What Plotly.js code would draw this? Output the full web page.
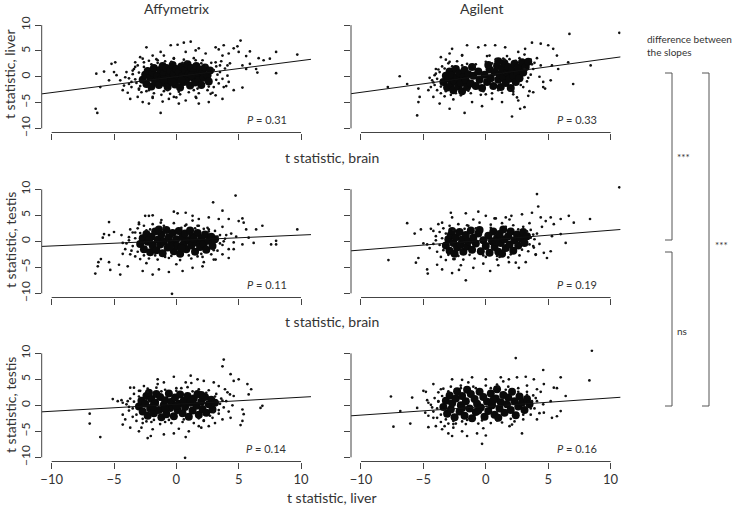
<!DOCTYPE html>
<html><head><meta charset="utf-8">
<script src="https://cdn.plot.ly/plotly-3.0.1.min.js"></script>
<style>html,body{margin:0;padding:0;background:#fff}#chart{width:735px;height:507px}</style>
</head><body><div id="chart"></div>
<script>
// ---------- data ----------
const platforms = ["Affymetrix", "Agilent"];
const rowXLabels = ["t statistic, brain", "t statistic, brain", "t statistic, liver"];
const rowYLabels = ["t statistic, liver", "t statistic, testis", "t statistic, testis"];
const pValues = ["0.31", "0.33", "0.11", "0.19", "0.14", "0.16"];
const slopes = [0.31, 0.33, 0.105, 0.19, 0.135, 0.165];
const intercepts = [0.03, 0.28, 0.16, 0.23, 0.21, -0.23];
const tickValues = [-10, -5, 0, 5, 10];
const slopeTestLabels = ["***", "***", "ns"];
const slopeTestTitle = "difference between<br>the slopes";

// panel 1: Affymetrix, liver vs brain
const affyLiverBrainCore = [[-2.7,-0.6],[-2.5,0.4],[-2.4,-1.4],[-2.3,1.1],[-2.1,-0.2],[-2.0,-1.9],[-1.9,0.8],[-1.8,1.7],[-1.7,-0.9],[-1.5,0.2],[-1.4,-1.6],[-1.3,1.3],[-1.2,-0.4],[-1.1,2.1],[-1.0,0.6],[-0.9,-1.2],[-0.8,1.7],[-0.7,-2.0],[-0.6,0.0],[-0.5,1.1],[-0.4,-0.8],[-0.3,2.3],[-0.2,0.5],[-0.1,-1.5],[0.0,1.5],[0.1,-0.3],[0.2,0.9],[0.3,-2.1],[0.4,2.0],[0.5,0.2],[0.6,-1.0],[0.7,1.3],[0.8,-0.5],[0.9,2.4],[1.0,0.6],[1.1,-1.7],[1.2,1.7],[1.3,-0.1],[1.4,1.0],[1.5,-1.1],[1.6,2.1],[1.7,0.4],[1.8,-0.7],[1.9,1.4],[2.0,-1.6],[2.1,0.8],[2.2,-0.2],[2.3,1.8],[2.5,0.3],[2.6,-0.9],[2.7,1.2],[-0.3,-1.0],[0.4,-0.7],[-1.0,-0.5],[1.2,0.3]];
const affyLiverBrainSpread = [[-3.5,0.5],[-3.2,-1.2],[-3.4,1.5],[-3.0,-2.5],[-3.1,2.2],[-2.8,-3.0],[-2.6,2.8],[-2.4,-2.8],[-2.2,3.1],[-1.8,-3.2],[-1.6,3.4],[-1.2,-3.5],[-0.9,3.0],[-0.5,-3.3],[-0.2,3.6],[0.3,-3.4],[0.6,3.3],[1.0,-3.0],[1.4,3.6],[1.8,-3.2],[2.1,3.2],[2.5,-2.6],[2.8,2.7],[3.0,-2.0],[3.2,2.0],[3.4,-1.3],[3.5,0.9],[3.7,-0.4],[3.9,1.6],[4.1,0.2],[-3.8,-0.3],[-4.0,0.9],[-3.6,-2.0],[4.3,2.6],[4.0,-1.8],[3.6,3.0],[-2.9,3.8],[0.0,-4.0],[1.6,-4.1],[-1.9,-3.9],
 [-3.3,-0.5],[-3.0,0.8],[-2.9,-1.8],[-2.6,1.9],[-2.2,-2.6],[-1.5,2.7],[-1.0,-2.8],[-0.4,2.9],[0.2,-2.9],[0.8,2.9],[1.4,-2.6],[2.0,2.6],[2.6,-1.9],[3.0,1.3],[3.2,-0.6],[3.3,0.4],[-3.6,-1.0],[2.4,2.2],[-2.0,2.4],[1.7,-2.3],[-0.7,-2.6],[0.5,2.7],[3.5,2.2],[-3.3,2.8],[2.9,-3.1],
 [-6.47,-6.2],[-6.34,-7.0],[-1.26,-7.0],[-6.42,0.6],[-5.8,1.0],[-5.2,2.5],[-4.9,2.8],[-5.0,0.9],[-4.8,0.3],[-5.4,-0.7],[-6.1,-2.0],[-2.4,5.7],[-1.26,4.8],[-1.0,4.1],[-0.45,6.1],[0.1,6.2],[0.6,6.6],[1.15,6.8],[1.55,5.1],[1.8,5.5],[0.75,4.8],[2.35,4.5],[3.15,5.7],[3.4,5.3],[3.8,6.1],[4.2,4.5],[4.6,5.5],[4.9,5.9],[5.15,7.0],[5.0,4.8],[5.6,4.0],[5.9,4.9],[6.6,3.6],[7.0,3.2],[7.5,3.5],[8.0,4.8],[9.7,4.3],[5.3,2.2],[5.6,1.5],[5.9,2.5],[6.4,1.5],[6.5,0.8],[8.0,0.7],[4.6,-2.6],[5.3,-2.1],[3.7,-4.3],[3.15,-3.6],[2.6,-4.9],[1.8,-5.2],[0.75,-4.6],[0.2,-5.2],[-0.6,-4.3],[-1.1,-4.8],[-1.9,-4.1],[-2.7,-4.9],[-3.7,-4.3],[-3.9,-3.1],[-4.2,-1.7],[-4.5,-0.7],[-4.1,-0.1],[-4.3,-2.6],[-3.1,-3.9],[-2.2,-5.2],[-3.3,1.9],[-3.5,1.2],[-2.7,3.5],[-1.9,4.1],[3.7,4.1],[3.15,2.8],[4.1,2.2],[4.2,-1.0],[3.8,-2.0],[2.75,-3.3],[1.55,-3.9],[-0.2,-3.9],[-3.0,-2.3],[-3.8,-1.4],[1.55,3.2],[-0.2,3.5],[-1.5,3.2]];

// panel 2: Agilent, liver vs brain
const agiLiverBrainCore = [[-3.4,-1.0],[-3.2,0.2],[-3.1,-2.1],[-3.0,-0.4],[-2.9,1.0],[-2.8,-1.6],[-2.7,0.3],[-2.6,-2.6],[-2.5,-0.9],[-2.4,1.5],[-2.3,-0.1],[-2.2,-1.9],[-2.1,0.7],[-2.0,-1.2],[-1.9,-2.8],[-1.8,0.0],[-1.7,1.3],[-1.6,-0.7],[-1.5,-2.0],[-1.4,0.5],[-1.2,-1.3],[-1.0,0.2],[-0.8,-1.8],[-0.6,1.0],[-0.5,-0.6],[-0.3,-2.2],[-0.1,0.4],[0.1,-1.0],[0.3,1.4],[0.4,-0.3],[0.6,-1.8],[0.7,0.9],[0.9,2.1],[1.0,-0.6],[1.1,0.5],[1.2,-2.0],[1.3,1.5],[1.4,-0.1],[1.5,2.6],[1.6,-1.2],[1.7,0.8],[1.8,1.9],[1.9,-0.4],[2.0,-2.2],[2.1,1.2],[2.2,0.2],[2.3,2.5],[2.4,-1.0],[2.5,0.9],[2.6,1.8],[2.7,-0.3],[2.9,2.8],[3.0,0.8],[3.2,1.9],[3.4,2.9],[0.2,2.3],[-1.1,1.9],[1.0,3.0]];
const agiLiverBrainSpread = [[-4.2,-1.1],[-4.0,0.6],[-3.9,-2.6],[-3.8,1.4],[-3.6,-3.2],[-3.5,2.0],[-3.3,-3.8],[-3.0,2.6],[-2.8,-3.5],[-2.3,3.0],[-2.0,-3.6],[-1.5,2.5],[-1.2,-3.2],[-0.8,2.4],[-0.4,-3.5],[0.0,2.9],[0.5,-3.2],[0.8,3.4],[1.3,-3.1],[1.9,3.4],[2.2,-2.9],[2.7,3.6],[3.0,-2.0],[3.3,-0.9],[3.6,0.4],[3.8,1.5],[3.9,2.7],[4.1,3.6],[4.3,0.0],[4.4,2.2],[3.5,-2.8],[-4.5,-0.2],[-4.4,-2.0],[-3.2,3.3],[1.7,4.0],[-1.9,4.2],[2.5,-4.0],[-2.6,-4.4],[0.3,4.1],[3.1,4.3],
 [-3.9,-0.4],[-3.7,0.9],[-3.6,-1.9],[-3.3,1.6],[-3.2,-2.8],[-2.7,2.0],[-2.4,-3.2],[-1.9,2.2],[-1.4,-2.7],[-0.9,2.0],[-0.2,-2.8],[0.5,2.6],[1.0,-2.6],[1.5,3.3],[1.9,-2.6],[2.4,3.1],[2.8,-1.6],[3.1,1.5],[3.4,-0.2],[3.7,2.4],[3.6,3.3],[-4.1,-1.6],[0.0,-3.4],[2.2,-3.4],[-2.9,2.9],
 [6.7,8.3],[10.7,8.5],[-6.9,0.1],[-7.85,-2.0],[-6.3,-1.4],[-5.4,-2.3],[-5.3,-3.9],[-5.4,-4.9],[-5.5,-7.5],[-4.3,-0.7],[-4.6,-2.6],[-4.2,-3.9],[-3.7,-5.2],[-2.9,-6.2],[-1.7,-7.0],[-1.1,-4.9],[-0.3,-5.7],[0.5,-4.3],[1.3,-4.9],[2.1,-7.7],[2.75,-6.2],[3.1,-5.9],[2.6,-4.6],[3.4,-3.7],[3.8,-3.0],[4.6,-2.0],[4.75,-2.3],[5.2,-0.7],[4.6,-1.0],[5.3,2.2],[5.8,1.5],[5.7,4.1],[5.4,5.4],[5.0,6.1],[4.4,6.4],[3.7,6.6],[3.15,5.4],[2.6,4.8],[1.55,5.7],[0.75,6.1],[-0.05,6.1],[-0.6,5.7],[-1.5,6.1],[-1.9,4.1],[-2.7,5.4],[-2.9,4.5],[-3.6,3.8],[-4.0,1.5],[-4.1,0.3],[6.6,2.8],[7.0,-1.4],[8.4,2.2],[1.4,3.5],[0.1,4.0]];

// panel 3: Affymetrix, testis vs brain
const affyTestisBrainCore = [[-2.9,-0.5],[-2.7,0.6],[-2.6,-1.5],[-2.4,1.4],[-2.3,-0.1],[-2.1,-2.1],[-2.0,0.9],[-1.9,-0.8],[-1.7,1.9],[-1.6,-1.7],[-1.5,0.3],[-1.3,-0.6],[-1.2,1.3],[-1.1,-2.3],[-1.0,0.0],[-0.8,2.2],[-0.7,-1.2],[-0.6,0.8],[-0.4,-0.3],[-0.3,1.6],[-0.2,-1.9],[0.0,0.4],[0.1,-0.9],[0.2,2.0],[0.3,-2.4],[0.5,0.9],[0.6,-0.4],[0.7,1.5],[0.8,-1.5],[1.0,0.2],[1.1,2.1],[1.2,-0.8],[1.3,1.0],[1.5,-2.0],[1.6,-0.2],[1.7,1.6],[1.9,-1.1],[2.0,0.5],[2.2,-0.5],[2.3,1.3],[2.4,-1.6],[2.6,0.1],[2.8,0.9],[2.9,-0.9],[3.1,0.4],[-1.4,2.3],[0.4,-1.3],[-0.5,-1.0],[1.4,0.5],[-2.2,0.2]];
const affyTestisBrainSpread = [[-4.0,-0.4],[-3.8,0.8],[-3.6,-1.8],[-3.5,1.7],[-3.3,-2.9],[-3.1,2.5],[-2.9,-3.4],[-2.6,3.0],[-2.2,-3.3],[-1.9,3.3],[-1.5,-3.5],[-1.0,3.0],[-0.6,-3.2],[-0.2,3.5],[0.3,-3.6],[0.8,3.2],[1.2,-3.3],[1.7,3.0],[2.1,-3.0],[2.5,2.6],[2.8,-2.5],[3.1,2.0],[3.3,-1.8],[3.5,1.2],[3.7,-0.7],[3.9,0.5],[4.2,-1.5],[4.4,1.5],[4.6,-0.2],[-4.3,-2.4],[-4.4,1.2],[3.7,2.8],[-2.4,-4.2],[0.0,-4.4],[2.2,-4.0],[1.3,4.0],[-1.2,4.1],[4.8,0.9],[-3.0,3.6],[3.0,-3.5],
 [-3.5,-0.9],[-3.3,0.6],[-3.1,-2.0],[-2.9,1.6],[-2.6,-2.7],[-2.1,2.3],[-1.7,-2.7],[-1.0,2.6],[-0.4,-2.8],[0.4,2.6],[1.0,-2.7],[1.5,2.5],[2.0,-2.4],[2.6,1.9],[3.0,-1.7],[3.3,0.9],[3.5,-0.4],[3.8,0.0],[-3.8,0.2],[2.2,2.4],[-2.4,2.1],[1.7,-2.9],[-0.9,-3.0],[0.7,3.0],[4.0,1.2],
 [4.75,8.8],[2.95,7.5],[3.7,5.9],[-6.5,-6.2],[-6.3,-4.8],[-6.25,-4.0],[-6.05,-3.4],[-5.4,-4.0],[-5.3,-5.5],[-4.5,-6.4],[-4.6,-4.5],[-3.9,-4.8],[-2.7,-5.7],[-1.9,-6.4],[-1.4,-5.4],[-0.6,-5.9],[0.5,-5.7],[1.3,-5.1],[2.1,-4.8],[-0.35,-10.1],[-5.4,1.2],[-5.9,0.7],[-5.8,1.4],[-5.4,3.7],[-5.0,1.8],[-2.5,4.9],[-2.2,4.9],[-1.9,5.0],[-0.2,5.7],[0.1,5.4],[0.75,5.5],[1.3,4.9],[1.8,4.3],[2.6,4.6],[3.4,4.3],[4.2,4.3],[5.0,3.9],[5.3,4.4],[5.4,3.6],[5.6,2.3],[6.4,2.3],[6.9,3.0],[8.0,0.1],[8.0,-0.6],[7.6,-0.6],[9.7,2.3],[5.8,0.7],[6.2,-0.3],[5.3,-0.6],[4.6,-1.5],[4.2,-3.2],[3.7,-2.5],[3.15,-3.5],[-3.7,-2.5],[-4.1,-1.5],[-4.3,-0.3],[-3.3,1.7],[-3.7,2.3],[-3.0,3.3],[-1.25,3.6],[1.8,3.0],[2.6,2.3]];

// panel 4: Agilent, testis vs brain
const agiTestisBrainCore = [[-3.2,-0.8],[-3.0,0.4],[-2.9,-1.8],[-2.8,1.2],[-2.6,-0.3],[-2.5,-2.4],[-2.4,0.8],[-2.3,-1.2],[-2.1,1.8],[-2.0,-0.6],[-1.9,0.3],[-1.8,-2.0],[-1.6,1.2],[-1.5,-1.0],[-1.4,0.0],[-1.2,2.1],[-1.1,-1.6],[-1.0,0.7],[-0.8,-0.4],[-0.6,1.5],[-0.4,-1.9],[-0.2,0.2],[0.0,-0.9],[0.2,1.1],[0.3,-2.2],[0.5,0.0],[0.6,1.9],[0.7,-1.1],[0.9,0.6],[1.0,-2.0],[1.1,1.4],[1.2,-0.3],[1.4,2.3],[1.5,0.4],[1.6,-1.3],[1.8,1.0],[1.9,-0.6],[2.0,1.9],[2.2,-1.8],[2.3,0.2],[2.5,1.3],[2.6,-0.8],[2.8,0.6],[3.0,1.8],[3.1,-0.3],[3.3,1.0],[-0.5,2.2],[1.3,-2.4],[-2.7,2.0],[0.8,-0.1]];
const agiTestisBrainSpread = [[-4.2,-0.5],[-4.0,1.0],[-3.9,-2.0],[-3.7,1.8],[-3.6,-3.0],[-3.4,2.5],[-3.2,-3.6],[-2.9,3.0],[-2.5,-3.4],[-2.2,3.3],[-1.8,-3.5],[-1.4,3.0],[-0.9,-3.3],[-0.5,3.6],[0.0,-3.0],[0.4,3.2],[0.9,-3.5],[1.3,3.5],[1.8,-3.1],[2.2,3.1],[2.7,-2.7],[3.0,2.8],[3.4,-1.9],[3.6,2.2],[3.8,-0.9],[3.9,0.4],[4.1,1.5],[4.3,-0.5],[-4.4,2.4],[-4.5,-1.3],[2.4,-4.1],[-0.2,-4.3],[-2.0,-4.6],[3.5,3.5],[-1.0,4.2],[1.9,4.2],[4.5,2.8],[-3.5,3.6],[4.0,-2.6],[0.7,4.4],
 [-3.7,-0.7],[-3.5,0.6],[-3.4,-1.7],[-3.2,1.5],[-3.0,-2.6],[-2.6,2.2],[-2.2,-2.8],[-1.7,2.4],[-1.3,-2.6],[-0.8,2.5],[-0.2,-2.7],[0.4,2.6],[0.9,-2.8],[1.6,2.8],[2.0,-2.5],[2.6,2.3],[2.9,-1.6],[3.3,1.9],[3.5,-0.6],[3.6,0.7],[-4.0,0.2],[-2.6,-3.4],[1.1,-3.0],[-1.5,3.1],[3.8,1.3],
 [10.7,10.4],[4.1,9.1],[4.2,6.7],[-7.8,-3.6],[-6.3,3.5],[-5.7,1.5],[-5.2,2.3],[-5.0,-0.4],[-5.6,-4.1],[-5.4,-3.2],[-4.7,-5.4],[-4.65,-6.2],[-3.9,-4.5],[-3.5,-5.4],[-2.7,-6.1],[-2.15,-5.5],[-1.6,-7.5],[-1.0,-5.1],[0.35,-5.7],[1.0,-4.6],[1.85,-4.0],[2.65,-5.1],[3.2,-4.0],[4.0,-2.5],[4.65,-2.2],[5.2,-1.9],[4.9,-3.2],[3.85,-1.2],[6.65,4.9],[7.05,3.6],[8.35,4.3],[6.0,4.3],[5.45,3.3],[5.2,4.6],[4.8,3.9],[4.4,4.6],[3.7,5.5],[2.9,5.2],[2.05,4.9],[1.6,4.6],[0.8,4.4],[0.0,4.9],[-0.6,5.7],[-1.6,5.4],[-2.8,5.5],[-2.7,4.6],[-3.8,3.3],[-4.2,2.0],[-4.7,-0.6],[5.3,1.0],[6.0,1.4],[6.4,-0.3]];

// panel 5: Affymetrix, testis vs liver
const affyTestisLiverCore = [[-3.0,-0.2],[-2.8,0.9],[-2.7,-1.2],[-2.5,0.3],[-2.4,1.8],[-2.3,-2.0],[-2.1,-0.6],[-2.0,1.2],[-1.8,-1.5],[-1.7,0.5],[-1.6,2.2],[-1.4,-0.9],[-1.3,1.6],[-1.2,-2.3],[-1.0,0.1],[-0.9,1.0],[-0.8,-1.7],[-0.6,2.3],[-0.5,-0.5],[-0.4,0.7],[-0.2,-2.1],[-0.1,1.5],[0.1,-0.9],[0.2,0.3],[0.3,2.1],[0.5,-1.5],[0.6,0.9],[0.7,-0.3],[0.9,1.8],[1.0,-2.2],[1.1,0.5],[1.3,-1.0],[1.4,1.3],[1.6,-0.1],[1.7,2.2],[1.8,-1.8],[2.0,0.7],[2.1,-0.7],[2.3,1.6],[2.4,-1.4],[2.6,0.2],[2.8,1.1],[2.9,-0.8],[3.1,0.5],[-1.9,-0.2],[0.0,-0.1],[-0.9,-0.7],[1.2,1.0],[2.0,2.0],[-2.2,2.4]];
const affyTestisLiverSpread = [[-4.0,0.2],[-3.8,-1.0],[-3.7,1.3],[-3.5,-2.2],[-3.4,2.2],[-3.2,-3.0],[-2.9,2.8],[-2.7,-3.4],[-2.3,3.2],[-2.0,-3.2],[-1.6,3.4],[-1.3,-3.6],[-0.9,3.0],[-0.4,-3.4],[0.0,3.3],[0.5,-3.2],[0.9,3.5],[1.4,-3.4],[1.8,3.1],[2.2,-3.0],[2.6,2.9],[2.9,-2.4],[3.2,2.2],[3.4,-1.6],[3.6,1.3],[3.8,-0.4],[4.0,0.8],[4.2,-1.2],[4.3,2.1],[-4.3,-1.8],[-4.4,1.0],[3.9,3.1],[-2.8,-4.3],[0.2,-4.5],[2.0,-4.3],[1.2,4.3],[-1.5,4.1],[4.5,0.0],[-3.4,3.4],[3.1,-3.4],
 [-3.5,-0.6],[-3.4,0.7],[-3.2,-1.8],[-3.0,1.7],[-2.7,-2.6],[-2.3,2.6],[-1.8,-2.8],[-1.2,2.7],[-0.6,-2.8],[0.0,2.8],[0.6,-2.7],[1.3,2.7],[1.8,-2.5],[2.4,2.4],[2.7,-2.0],[3.1,1.7],[3.4,-0.9],[3.5,0.3],[3.7,0.9],[-3.8,-0.3],[2.2,-2.9],[-2.4,-3.1],[0.4,3.3],[-0.9,-3.2],[3.0,-1.3],
 [3.8,8.8],[3.7,7.5],[4.35,6.0],[5.0,5.0],[4.6,4.7],[5.7,4.1],[6.0,3.1],[5.8,2.1],[6.9,-0.1],[6.75,-0.5],[5.3,-0.8],[5.4,-1.7],[5.3,-3.0],[5.15,-3.8],[4.35,-2.4],[3.7,-2.7],[-6.95,-1.6],[-6.95,-3.5],[-6.1,-6.1],[-5.1,1.2],[-4.7,0.8],[-4.3,0.5],[-3.9,0.8],[-4.3,-3.7],[-4.1,-2.7],[-3.7,-4.3],[-3.0,-5.0],[-2.3,-6.3],[-2.05,-5.9],[-1.9,-4.6],[-1.0,-5.6],[-0.2,-5.4],[0.75,-6.1],[1.0,-5.0],[0.7,-10.1],[1.8,-4.0],[2.6,-4.0],[-3.7,3.4],[-3.0,2.8],[-2.6,3.7],[-1.5,5.0],[-1.0,4.4],[-0.2,5.5],[0.75,4.4],[1.15,5.7],[1.7,5.0],[2.2,4.7],[3.0,4.4],[3.4,3.7],[4.1,2.5],[4.6,1.8]];

// panel 6: Agilent, testis vs liver
const agiTestisLiverCore = [[-3.4,-0.3],[-3.2,0.9],[-3.1,-1.6],[-2.9,1.9],[-2.8,-0.8],[-2.7,0.4],[-2.5,-2.3],[-2.4,1.3],[-2.3,2.7],[-2.1,-1.2],[-2.0,0.0],[-1.9,1.8],[-1.7,-2.0],[-1.6,0.8],[-1.5,3.0],[-1.3,-0.6],[-1.2,2.2],[-1.1,-2.5],[-0.9,1.2],[-0.8,-1.3],[-0.7,0.3],[-0.5,2.6],[-0.4,-0.4],[-0.2,1.6],[-0.1,-2.2],[0.1,0.7],[0.2,-1.1],[0.4,2.3],[0.5,0.0],[0.7,-1.8],[0.8,1.3],[0.9,3.1],[1.1,-0.6],[1.2,0.6],[1.4,2.0],[1.5,-1.4],[1.7,0.2],[1.8,1.5],[2.0,-0.9],[2.1,2.6],[2.3,0.8],[2.4,-1.9],[2.6,-0.2],[2.7,1.7],[2.9,0.5],[3.1,-0.9],[3.3,1.2],[-0.6,-1.0],[0.6,1.0],[-1.9,-0.5],[1.0,-2.4],[3.5,0.2]];
const agiTestisLiverSpread = [[-4.4,0.1],[-4.2,-1.2],[-4.1,1.4],[-3.9,-2.4],[-3.8,2.5],[-3.6,-3.2],[-3.4,3.2],[-3.0,-3.5],[-2.8,3.6],[-2.4,-3.5],[-2.0,3.8],[-1.6,-3.6],[-1.0,3.6],[-0.6,-3.5],[0.0,3.8],[0.4,-3.4],[0.9,4.0],[1.3,-3.3],[1.8,3.6],[2.3,-3.1],[2.6,3.3],[3.0,-2.7],[3.3,2.6],[3.6,-1.8],[3.8,1.9],[3.9,-0.6],[4.1,0.8],[4.3,-1.5],[4.4,2.6],[-4.6,-2.0],[-4.7,1.0],[-2.6,-4.3],[-0.2,-4.4],[1.9,-4.0],[-1.4,4.4],[3.3,3.8],[4.6,0.2],[-3.3,-4.0],[1.4,4.6],[-4.8,2.6],
 [-3.9,-0.6],[-3.8,0.7],[-3.6,-1.8],[-3.5,1.8],[-3.2,-2.7],[-3.0,2.7],[-2.6,-3.0],[-2.0,3.3],[-1.5,-2.8],[-0.8,3.3],[-0.3,-2.9],[0.4,3.3],[0.9,-2.9],[1.6,3.0],[2.0,-2.6],[2.6,2.6],[3.0,-1.8],[3.3,2.0],[3.6,-0.6],[3.7,0.8],[-4.3,-0.4],[-2.6,-3.6],[1.0,3.6],[-1.9,-3.1],[4.0,1.4],
 [8.5,10.5],[8.3,4.8],[2.4,9.1],[4.6,6.8],[6.0,5.4],[5.45,3.4],[5.7,3.3],[6.4,1.8],[5.2,0.8],[5.3,-2.4],[6.0,-1.1],[5.7,-2.1],[4.65,-1.4],[4.1,-2.7],[2.9,-5.4],[2.1,-3.7],[-0.3,-7.4],[0.0,-5.8],[-0.7,-5.4],[-1.5,-5.9],[-1.9,-5.0],[-2.7,-5.9],[-3.0,-5.4],[-3.5,-4.6],[-4.0,-4.0],[-4.6,-4.2],[-4.2,-2.4],[-4.85,-1.4],[-5.5,-0.5],[-6.05,-3.5],[-6.85,-1.1],[-7.4,-4.1],[-7.6,1.7],[-5.9,1.5],[-5.0,2.8],[-4.2,4.1],[-3.6,3.1],[-2.7,5.0],[-1.9,4.9],[-1.1,5.4],[0.0,5.0],[1.2,5.4],[1.85,5.0],[2.5,5.4],[3.2,5.5],[3.85,5.0],[4.65,4.1],[4.1,3.1],[-4.6,0.5],[-3.8,0.8]];

// ---------- build ----------
const coreSets = [affyLiverBrainCore, agiLiverBrainCore, affyTestisBrainCore, agiTestisBrainCore, affyTestisLiverCore, agiTestisLiverCore];
const spreadSets = [affyLiverBrainSpread, agiLiverBrainSpread, affyTestisBrainSpread, agiTestisBrainSpread, affyTestisLiverSpread, agiTestisLiverSpread];

const W = 735, H = 507;
const R = 10.8;
const xDom = [[41.7/W, 311/W], [351/W, 620.6/W]];
const yDom = [[1-132.5/H, 1-21/H], [1-297.5/H, 1-185.2/H], [1-461.5/H, 1-349.2/H]];
const TXT = '#333';
const FONT = 'Lato, "Open Sans", sans-serif';

const traces = [];
const layout = {
  width: W, height: H,
  margin: {l:0, r:0, t:0, b:0},
  paper_bgcolor: '#fff', plot_bgcolor: '#fff',
  showlegend: false,
  font: {family: FONT, color: TXT},
  shapes: [], annotations: []
};
const px = v => v / W, py = v => 1 - v / H;

for (let i = 0; i < 6; i++) {
  const row = Math.floor(i / 2), col = i % 2;
  const s = i === 0 ? '' : String(i + 1);
  const xa = 'x' + s, ya = 'y' + s;
  traces.push({type:'scatter', mode:'markers', xaxis:xa, yaxis:ya, hoverinfo:'skip',
    x: coreSets[i].map(d => d[0]), y: coreSets[i].map(d => d[1]),
    marker:{size:8, color:'#0a0a0a', line:{width:0}}});
  traces.push({type:'scatter', mode:'markers', xaxis:xa, yaxis:ya, hoverinfo:'skip',
    x: spreadSets[i].map(d => d[0]), y: spreadSets[i].map(d => d[1]),
    marker:{size:2.7, color:'#111', line:{width:0}}});
  const lx = [-R, R];
  traces.push({type:'scatter', mode:'lines', xaxis:xa, yaxis:ya, hoverinfo:'skip',
    x: lx, y: lx.map(v => slopes[i] * v + intercepts[i]),
    line:{color:'#111', width:1}});

  const common = {range:[-R, R], tickvals: tickValues,
    ticktext: tickValues.map(v => v < 0 ? '\u2212' + Math.abs(v) : String(v)),
    ticks:'outside', ticklen:6, tickwidth:1, tickcolor:'#444',
    showline:false, showgrid:false, zeroline:false, fixedrange:true};
  layout['xaxis' + s] = Object.assign({}, common, {domain:xDom[col], anchor:ya,
    showticklabels: row === 2, tickfont:{size:13, color:TXT, family:FONT}});
  layout['yaxis' + s] = Object.assign({}, common, {domain:yDom[row], anchor:xa,
    showticklabels: col === 0, tickangle:-90, tickfont:{size:12, color:TXT, family:FONT}});

  // R-style detached axis lines
  layout.shapes.push({type:'line', xref:xa, yref:ya + ' domain', x0:-10, x1:10, y0:0, y1:0, line:{color:'#444', width:1}});
  layout.shapes.push({type:'line', xref:xa + ' domain', yref:ya, x0:0, x1:0, y0:-10, y1:10, line:{color:'#444', width:1}});

  // P value
  layout.annotations.push({xref:xa + ' domain', yref:ya + ' domain', x:0.92, y:0.115, xanchor:'right', yanchor:'middle',
    text:'<i>P</i> = ' + pValues[i], showarrow:false, font:{size:11, color:TXT}});
}

// column titles
platforms.forEach((t, c) => layout.annotations.push({xref:'paper', yref:'paper', x:px(c === 0 ? 176 : 482), y:py(9),
  text:t, showarrow:false, font:{size:14, color:TXT}, xanchor:'center', yanchor:'middle'}));
// y titles
rowYLabels.forEach((t, r) => layout.annotations.push({xref:'paper', yref:'paper', x:px(10), y:py([74, 240, 405][r]),
  text:t, textangle:-90, showarrow:false, font:{size:14, color:TXT}, xanchor:'center', yanchor:'middle'}));
// x titles
rowXLabels.forEach((t, r) => layout.annotations.push({xref:'paper', yref:'paper', x:px(332), y:py([157, 321, 497][r]),
  text:t, showarrow:false, font:{size:14, color:TXT}, xanchor:'center', yanchor:'middle'}));

// slope comparison brackets
const bracket = (xv, y0, y1) => {
  const L = {color:'#555', width:1};
  layout.shapes.push({type:'line', xref:'paper', yref:'paper', x0:px(xv), x1:px(xv), y0:py(y0), y1:py(y1), line:L});
  layout.shapes.push({type:'line', xref:'paper', yref:'paper', x0:px(xv-7), x1:px(xv), y0:py(y0), y1:py(y0), line:L});
  layout.shapes.push({type:'line', xref:'paper', yref:'paper', x0:px(xv-7), x1:px(xv), y0:py(y1), y1:py(y1), line:L});
};
bracket(672, 73, 240);
bracket(709, 73, 406);
bracket(672, 252, 406);
layout.annotations.push({xref:'paper', yref:'paper', x:px(645), y:py(45), text:slopeTestTitle, align:'left',
  showarrow:false, font:{size:10, color:TXT}, xanchor:'left', yanchor:'middle'});
[[675, 157], [713, 245], [675, 331]].forEach((p, k) => layout.annotations.push({xref:'paper', yref:'paper',
  x:px(p[0]), y:py(p[1]), text:slopeTestLabels[k], showarrow:false, font:{size:10, color:TXT}, xanchor:'left', yanchor:'middle'}));

Plotly.newPlot('chart', traces, layout, {staticPlot:true, displayModeBar:false});
</script>
</body></html>
